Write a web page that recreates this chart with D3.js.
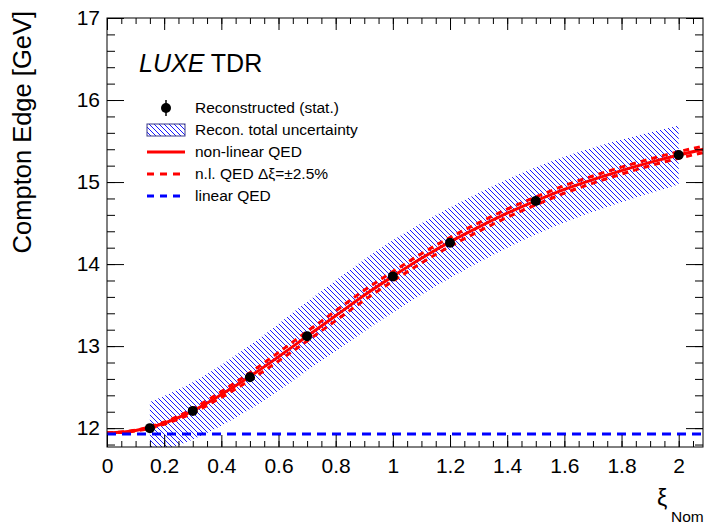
<!DOCTYPE html>
<html>
<head>
<meta charset="utf-8">
<script src="https://cdn.jsdelivr.net/npm/d3@7"></script>
<style>
  body { margin: 0; background: #fff; }
  text { font-family: "Liberation Sans", Arial, sans-serif; }
</style>
</head>
<body>
<div id="chart"></div>
<script>
// reconstructed points (stat.)
const recoXi = [0.15, 0.3, 0.5, 0.7, 1.0, 1.2, 1.5, 2.0];
const recoE = [12.0, 12.21, 12.62, 13.12, 13.85, 14.26, 14.77, 15.33];
// total uncertainty band
const bandLow = [11.68, 11.86, 12.23, 12.70, 13.41, 13.83, 14.36, 14.97];
const bandHigh = [12.32, 12.56, 13.01, 13.54, 14.29, 14.69, 15.18, 15.69];
// theory curves
const curveXi = [0, 0.1, 0.2, 0.3, 0.4, 0.5, 0.6, 0.7, 0.8, 0.9, 1.0, 1.1, 1.2, 1.3, 1.4, 1.5, 1.6, 1.7, 1.8, 1.9, 2.0, 2.1];
const nlQed = [11.94, 11.97, 12.06, 12.21, 12.41, 12.63, 12.87, 13.12, 13.37, 13.62, 13.85, 14.07, 14.27, 14.45, 14.62, 14.77, 14.91, 15.03, 15.14, 15.24, 15.33, 15.41];
const nlQedUp = [11.94, 11.975, 12.072, 12.235, 12.445, 12.675, 12.922, 13.178, 13.43, 13.68, 13.908, 14.126, 14.324, 14.502, 14.67, 14.818, 14.956, 15.074, 15.182, 15.281, 15.37, 15.449];
const nlQedDown = [11.94, 11.965, 12.048, 12.185, 12.375, 12.585, 12.818, 13.062, 13.31, 13.56, 13.792, 14.014, 14.216, 14.398, 14.57, 14.722, 14.864, 14.986, 15.098, 15.199, 15.29, 15.371];
const linQedXi = [0, 2.1];
const linQed = [11.93, 11.93];
// axes
const xTicks = [0, 0.2, 0.4, 0.6, 0.8, 1.0, 1.2, 1.4, 1.6, 1.8, 2.0];
const yTicks = [12, 13, 14, 15, 16, 17];
const legendLabels = ["Reconstructed (stat.)", "Recon. total uncertainty", "non-linear QED", "n.l. QED \u0394\u03be=\u00b12.5%", "linear QED"];

const W = 705, H = 527;
const x0 = 107, x1 = 703, y0 = 447, y1 = 18;

const svg = d3.select("#chart").append("svg")
    .attr("width", W).attr("height", H);

const x = d3.scaleLinear().domain([0, 2.085]).range([x0, x1]);
const y = d3.scaleLinear().domain([11.77, 17]).range([y0, y1]);

const defs = svg.append("defs");
defs.append("clipPath").attr("id", "frame")
    .append("rect").attr("x", x0).attr("y", y1).attr("width", x1 - x0).attr("height", y0 - y1);
// "\\\" hatching, 5px apart horizontally
defs.append("pattern").attr("id", "hatch")
    .attr("patternUnits", "userSpaceOnUse")
    .attr("width", 5).attr("height", 5)
    .append("path")
    .attr("d", "M0,0L5,5M-1,4L1,6M4,-1L6,1")
    .attr("stroke", "#0000ff").attr("stroke-width", 0.9).attr("fill", "none");

const plot = svg.append("g").attr("clip-path", "url(#frame)");

// band
const band = d3.area()
    .x((d, i) => x(recoXi[i]))
    .y0((d, i) => y(bandLow[i]))
    .y1((d, i) => y(bandHigh[i]))
    .curve(d3.curveMonotoneX);
plot.append("path").attr("d", band(recoXi)).attr("fill", "url(#hatch)");

// theory lines
const line = vals => d3.line()
    .x((d, i) => x(curveXi[i]))
    .y((d, i) => y(vals[i]))
    .curve(d3.curveMonotoneX)(curveXi);

plot.append("path").attr("d", line(nlQedUp))
    .attr("fill", "none").attr("stroke", "#ff0000").attr("stroke-width", 3).attr("stroke-dasharray", "6,5");
plot.append("path").attr("d", line(nlQedDown))
    .attr("fill", "none").attr("stroke", "#ff0000").attr("stroke-width", 3).attr("stroke-dasharray", "6,5");
plot.append("path").attr("d", line(nlQed))
    .attr("fill", "none").attr("stroke", "#ff0000").attr("stroke-width", 3);

plot.append("path")
    .attr("d", d3.line().x((d, i) => x(linQedXi[i])).y((d, i) => y(linQed[i]))(linQedXi))
    .attr("fill", "none").attr("stroke", "#0000ff").attr("stroke-width", 3).attr("stroke-dasharray", "9,6");

// points
plot.selectAll("circle.reco").data(recoXi).join("circle")
    .attr("class", "reco")
    .attr("cx", d => x(d))
    .attr("cy", (d, i) => y(recoE[i]))
    .attr("r", 5).attr("fill", "#000");

// axes
const fmt = d => String(+d.toFixed(2));
const xMinor = d3.range(0, 2.0851, 0.05);
const yMinor = d3.range(11.8, 17.001, 0.2);

function styleAxis(g) {
    g.select(".domain").remove();
    g.selectAll("line").attr("stroke", "#000");
    g.selectAll("text").attr("font-size", 21).attr("fill", "#000");
}

svg.append("g").attr("transform", `translate(0,${y0})`)
    .call(d3.axisBottom(x).tickValues(xMinor).tickSize(-6).tickFormat("")).call(styleAxis);
svg.append("g").attr("transform", `translate(0,${y0})`)
    .call(d3.axisBottom(x).tickValues(xTicks).tickSize(-12).tickPadding(11).tickFormat(fmt)).call(styleAxis);
svg.append("g").attr("transform", `translate(0,${y1})`)
    .call(d3.axisTop(x).tickValues(xMinor).tickSize(-6).tickFormat("")).call(styleAxis);
svg.append("g").attr("transform", `translate(0,${y1})`)
    .call(d3.axisTop(x).tickValues(xTicks).tickSize(-12).tickFormat("")).call(styleAxis);

svg.append("g").attr("transform", `translate(${x0},0)`)
    .call(d3.axisLeft(y).tickValues(yMinor).tickSize(-8).tickFormat("")).call(styleAxis);
svg.append("g").attr("transform", `translate(${x0},0)`)
    .call(d3.axisLeft(y).tickValues(yTicks).tickSize(-17).tickPadding(7).tickFormat(fmt)).call(styleAxis);
svg.append("g").attr("transform", `translate(${x1},0)`)
    .call(d3.axisRight(y).tickValues(yMinor).tickSize(-8).tickFormat("")).call(styleAxis);
svg.append("g").attr("transform", `translate(${x1},0)`)
    .call(d3.axisRight(y).tickValues(yTicks).tickSize(-17).tickFormat("")).call(styleAxis);

svg.append("rect").attr("x", x0).attr("y", y1).attr("width", x1 - x0).attr("height", y0 - y1)
    .attr("fill", "none").attr("stroke", "#000").attr("stroke-width", 1);

// axis titles
svg.append("text").attr("transform", "translate(31,11) rotate(-90)")
    .attr("text-anchor", "end").attr("font-size", 25.5).text("Compton Edge [GeV]");
svg.append("text").attr("x", 657).attr("y", 506).attr("font-size", 23).text("\u03be");
svg.append("text").attr("x", 671).attr("y", 522).attr("font-size", 15.5).text("Nom");

// LUXE label
const lux = svg.append("text").attr("x", 139).attr("y", 72).attr("font-size", 25);
lux.append("tspan").attr("font-style", "italic").text("LUXE");
lux.append("tspan").text(" TDR");

// legend
const legY = [108, 130, 152, 174, 196];
const leg = svg.append("g");
leg.selectAll("text").data(legendLabels).join("text")
    .attr("x", 195).attr("y", (d, i) => legY[i]).attr("dy", "0.35em")
    .attr("font-size", 15.5).text(d => d);
leg.append("line").attr("x1", 166).attr("x2", 166).attr("y1", legY[0] - 8).attr("y2", legY[0] + 8)
    .attr("stroke", "#000").attr("stroke-width", 1.5);
leg.append("circle").attr("cx", 166).attr("cy", legY[0]).attr("r", 5).attr("fill", "#000");
leg.append("rect").attr("x", 147).attr("y", legY[1] - 6).attr("width", 38).attr("height", 12)
    .attr("fill", "url(#hatch)").attr("stroke", "#3a3a8a").attr("stroke-width", 1);
leg.append("line").attr("x1", 147).attr("x2", 185).attr("y1", legY[2]).attr("y2", legY[2])
    .attr("stroke", "#ff0000").attr("stroke-width", 3);
leg.append("line").attr("x1", 147).attr("x2", 185).attr("y1", legY[3]).attr("y2", legY[3])
    .attr("stroke", "#ff0000").attr("stroke-width", 3).attr("stroke-dasharray", "7,6");
leg.append("line").attr("x1", 147).attr("x2", 185).attr("y1", legY[4]).attr("y2", legY[4])
    .attr("stroke", "#0000ff").attr("stroke-width", 3).attr("stroke-dasharray", "7,6");
</script>
</body>
</html>
